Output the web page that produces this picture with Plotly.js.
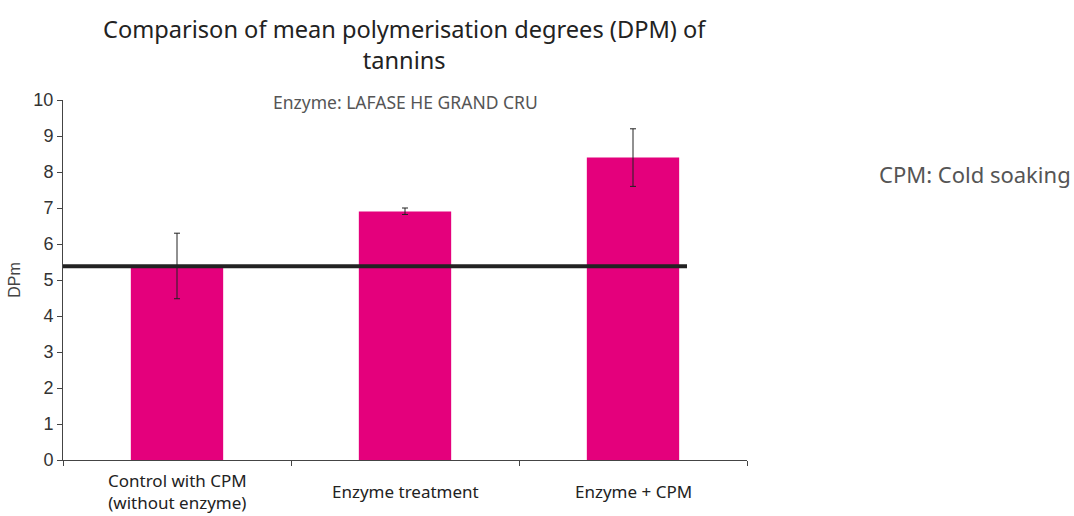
<!DOCTYPE html>
<html>
<head>
<meta charset="utf-8">
<script src="https://cdn.plot.ly/plotly-3.0.1.min.js"></script>
<style>html,body{margin:0;padding:0;background:#fff;}#chart{width:1074px;height:516px;}</style>
</head>
<body>
<div id="chart"></div>
<script>
const categories = ["Control with CPM<br>(without enzyme)", "Enzyme treatment", "Enzyme + CPM"];
const dpmValues = [5.35, 6.9, 8.4];
const errPlus = [0.95, 0.1, 0.8];
const errMinus = [0.87, 0.08, 0.8];
const referenceLevel = [5.38];
const yTicks = [0, 1, 2, 3, 4, 5, 6, 7, 8, 9, 10];

const PT = 100, PH = 360; // plot top / height in px
const py = (pix) => (PT + PH - pix) / PH;

const trace = {
  type: 'bar',
  x: categories,
  y: dpmValues,
  marker: {color: '#E4007C'},
  error_y: {type: 'data', symmetric: false, array: errPlus, arrayminus: errMinus,
            color: '#222', thickness: 1, width: 3},
  hoverinfo: 'none'
};

const catLabels = categories.map(c => ({
  text: c, xref: 'x', yref: 'paper', x: c, y: py(492),
  xanchor: 'center', yanchor: 'middle', showarrow: false, borderpad: 0,
  font: {family: 'Noto Sans', size: 17, color: '#222'}
}));

const layout = {
  width: 1074, height: 516,
  margin: {l: 63, r: 327, t: PT, b: 516 - PT - PH},
  paper_bgcolor: '#fff', plot_bgcolor: '#fff',
  bargap: 0.595,
  showlegend: false,
  xaxis: {
    type: 'category',
    showline: true, linecolor: '#444', linewidth: 1,
    ticks: 'outside', tickson: 'boundaries', ticklen: 5, tickcolor: '#444',
    showticklabels: false,
    showgrid: false, zeroline: false, fixedrange: true
  },
  yaxis: {
    range: [0, 10],
    tickvals: yTicks,
    showline: true, linecolor: '#444', linewidth: 1,
    ticks: 'outside', ticklen: 5, tickcolor: '#444',
    tickfont: {family: 'Arial', size: 18, color: '#333'},
    showgrid: false, zeroline: false,
    title: {text: 'DPm', font: {family: 'Arial', size: 16, color: '#444'}, standoff: 8}
  },
  shapes: [{
    type: 'line', xref: 'paper', yref: 'y',
    x0: 0, x1: (687 - 63) / 684, y0: referenceLevel[0], y1: referenceLevel[0],
    line: {color: '#222', width: 4}
  }],
  annotations: [
    {text: 'Comparison of mean polymerisation degrees (DPM) of<br>tannins', xref: 'paper', yref: 'paper',
     x: 0.5, y: py(44), xanchor: 'center', yanchor: 'middle', showarrow: false,
     font: {family: 'Noto Sans', size: 23.6, color: '#222'}},
    {text: 'Enzyme: LAFASE HE GRAND CRU', xref: 'paper', yref: 'paper', x: 0.5, y: py(102),
     xanchor: 'center', yanchor: 'middle', showarrow: false,
     font: {family: 'Noto Sans', size: 17.5, color: '#555'}},
    {text: 'CPM: Cold soaking', xref: 'paper', yref: 'paper', x: 1, y: py(174),
     xanchor: 'left', yanchor: 'middle', xshift: 879 - 747 - 2, showarrow: false,
     font: {family: 'Noto Sans', size: 22, color: '#555'}}
  ].concat(catLabels)
};

Plotly.newPlot('chart', [trace], layout, {displayModeBar: false, staticPlot: true});
</script>
</body>
</html>
